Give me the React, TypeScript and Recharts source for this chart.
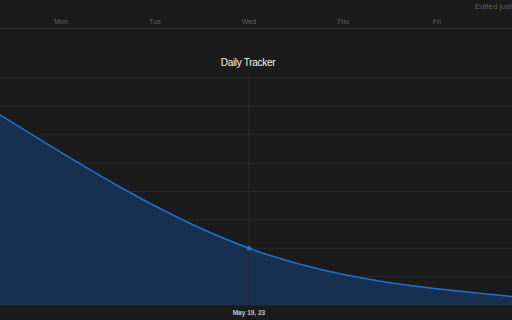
import React from 'react';
import { AreaChart, Area, XAxis, YAxis, CartesianGrid, ReferenceLine } from 'recharts';

// positions on the week axis (Mon = 0)
const dayPos = [-0.65, 2, 4.8];
const values = [67, 20, 3];
const dayTicks = [0, 1, 2, 3, 4];
const dayLabels = ['Mon', 'Tue', 'Wed', 'Thu', 'Fri'];
const yTicks = [0, 10, 20, 30, 40, 50, 60, 70, 80];
const markedDay = 2;
const markedLabel = 'May 19, 23';

const data = dayPos.map((d, i) => ({ day: d, value: values[i] }));

const font = 'Arial, "Liberation Sans", sans-serif';

const DayTick = (props: any) => {
  const { x, payload } = props;
  return (
    <text x={x} y={24} textAnchor="middle" fill="#606060" fontSize={7} fontFamily={font}>
      {dayLabels[dayTicks.indexOf(payload.value)]}
    </text>
  );
};

export default function App() {
  return (
    <div
      style={{
        position: 'fixed',
        left: 0,
        top: 0,
        width: 512,
        height: 320,
        background: '#1b1b1b',
        overflow: 'hidden',
        fontFamily: font,
      }}
    >
      <div style={{ position: 'absolute', right: 0, top: 2, fontSize: 8, color: '#5e5e5e', whiteSpace: 'nowrap' }}>
        Edited just
      </div>
      <div style={{ position: 'absolute', left: 0, top: 28, width: 512, height: 1, background: '#2a2a2a' }} />
      <div
        style={{
          position: 'absolute',
          left: 0,
          width: 496,
          top: 57,
          textAlign: 'center',
          fontSize: 10,
          letterSpacing: -0.3,
          color: '#f4f4f4',
          fontWeight: 500,
        }}
      >
        Daily Tracker
      </div>
      <AreaChart
        width={512}
        height={320}
        data={data}
        margin={{ top: 58, right: 0, bottom: 0, left: 0 }}
        style={{ position: 'absolute', left: 0, top: 0 }}
      >
        <CartesianGrid vertical={false} stroke="#2a2a2a" />
        <XAxis
          dataKey="day"
          type="number"
          domain={['dataMin', 'dataMax']}
          ticks={[markedDay]}
          tickFormatter={() => markedLabel}
          axisLine={false}
          tickLine={false}
          tickSize={0}
          tickMargin={5}
          height={15}
          tick={{ fill: '#c4c4c4', fontSize: 6.5, fontWeight: 700, fontFamily: font }}
        />
        <XAxis
          xAxisId="days"
          dataKey="day"
          type="number"
          orientation="top"
          domain={['dataMin', 'dataMax']}
          ticks={dayTicks}
          axisLine={false}
          tickLine={false}
          height={20}
          tick={(p: any) => <DayTick key={p.index} {...p} />}
        />
        <YAxis hide domain={[0, 80]} ticks={yTicks} />
        <ReferenceLine x={markedDay} stroke="#2a2a2a" />
        <Area
          type="monotone"
          dataKey="value"
          stroke="#1f6fd0"
          strokeWidth={1.6}
          fill="#17304f"
          fillOpacity={1}
          isAnimationActive={false}
          dot={(p: any) =>
            p.payload.day === markedDay ? (
              <circle key={p.index} cx={p.cx} cy={p.cy} r={2.5} fill="#1f6fd0" />
            ) : (
              <g key={p.index} />
            )
          }
        />
      </AreaChart>
    </div>
  );
}
